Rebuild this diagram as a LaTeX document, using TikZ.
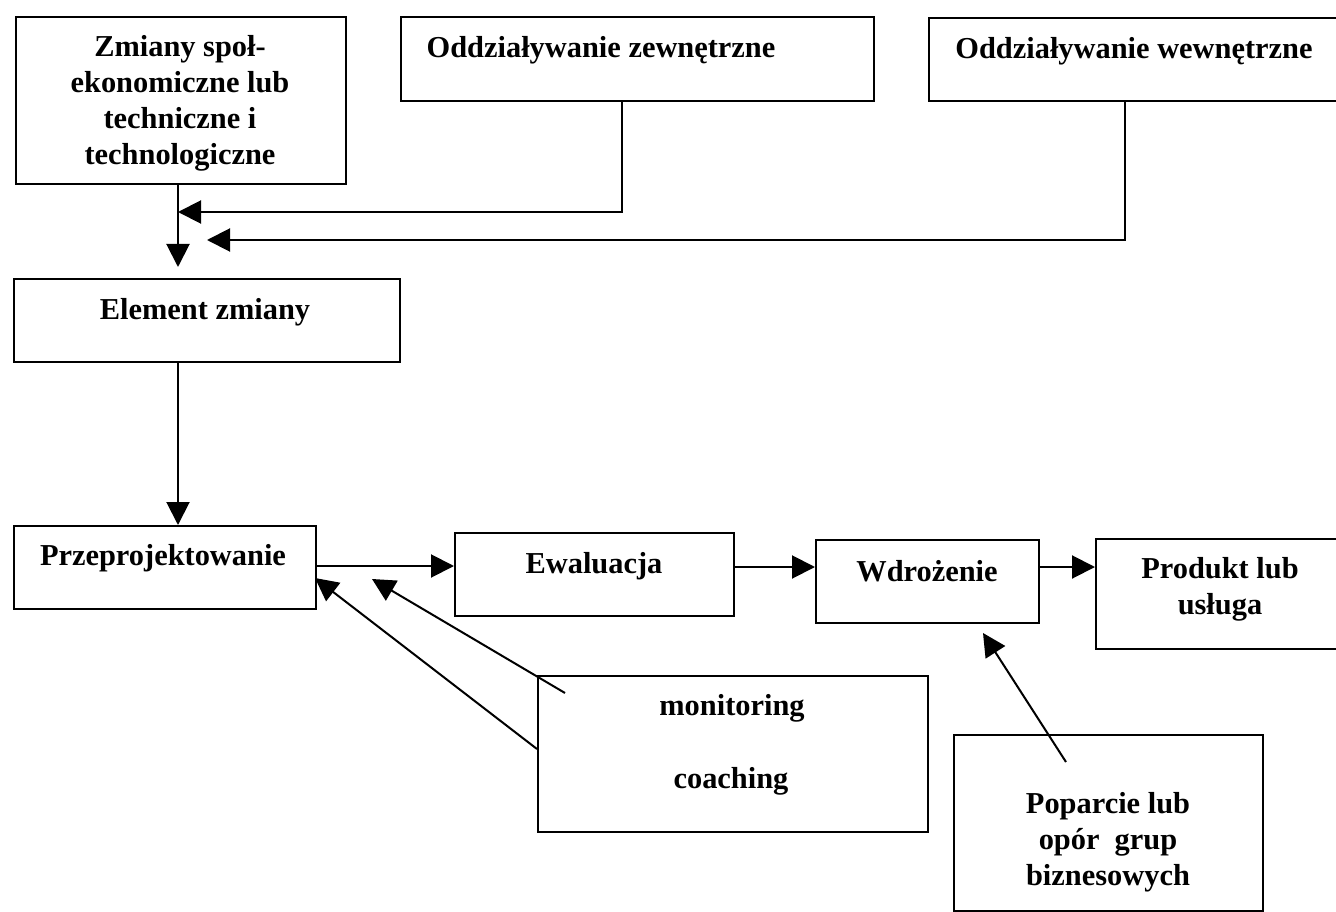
\documentclass[tikz,border=0pt]{standalone}
\usepackage{fontspec}
\setmainfont{Liberation Serif}
\usetikzlibrary{arrows.meta}
\begin{document}
\begin{tikzpicture}[x=1pt,y=-1pt,
  box/.style={draw, line width=2pt, rectangle, inner sep=0pt, anchor=north west},
  lbl/.style={font=\fontsize{30.4}{36}\selectfont\bfseries, align=center, anchor=base, inner sep=0pt},
  conn/.style={line width=2pt},
  arr/.style={conn, -{Triangle[length=23pt,width=23pt]}}]
\useasboundingbox (0,0) rectangle (1336,912);
% boxes
\node[box, minimum width=330pt, minimum height=167pt] (zmiany) at (15,16) {};
\node[box, minimum width=473pt, minimum height=84pt] (zew) at (400,16) {};
\node[box, minimum width=420pt, minimum height=83pt] (wew) at (928,17) {};
\node[box, minimum width=386pt, minimum height=83pt] (elem) at (13,278) {};
\node[box, minimum width=302pt, minimum height=83pt] (przep) at (13,525) {};
\node[box, minimum width=279pt, minimum height=83pt] (ewal) at (454,532) {};
\node[box, minimum width=223pt, minimum height=83pt] (wdroz) at (815,539) {};
\node[box, minimum width=260pt, minimum height=110pt] (prod) at (1095,538) {};
\node[box, minimum width=390pt, minimum height=156pt] (mon) at (537,675) {};
\node[box, minimum width=309pt, minimum height=176pt] (pop) at (953,734) {};
% labels (base anchor = baseline of the last line)
\node[lbl] (tzmiany) at (180,165) {Zmiany społ-\\ekonomiczne lub\\techniczne i\\technologiczne};
\node[lbl] (tzew) at (601,58) {Oddziaływanie zewnętrzne};
\node[lbl] (twew) at (1134,59) {Oddziaływanie wewnętrzne};
\node[lbl] (telem) at (205,319) {Element zmiany};
\node[lbl] (tprzep) at (163,565) {Przeprojektowanie};
\node[lbl] (tewal) at (594,573) {Ewaluacja};
\node[lbl] (twdroz) at (927,581) {Wdrożenie};
\node[lbl] (tprod) at (1220,614) {Produkt lub\\usługa};
\node[lbl] (tmon) at (732,715) {monitoring};
\node[lbl] (tcoach) at (731,788) {coaching};
\node[lbl] (tpop) at (1108,885) {Poparcie lub\\opór~ grup\\biznesowych};
% coordinates
\coordinate (j1) at (178,212);
\coordinate (t1) at (178,267);
\coordinate (b1) at (622,212);
\coordinate (c1) at (1125,240);
\coordinate (j2) at (207,240);
\coordinate (h1) at (0,566);
\coordinate (h2) at (0,567);
\coordinate (m1) at (537,749);
\coordinate (m2) at (565,693);
\coordinate (p1) at (315,578);
\coordinate (p2) at (372,579);
\coordinate (q1) at (1066,762);
\coordinate (q2) at (983,633);
% connectors
\draw[arr] (zmiany.south -| j1) -- (t1);
\draw[arr] (zew.south -| b1) -- (b1) -- (j1);
\draw[arr] (wew.south -| c1) -- (c1) -- (j2);
\draw[arr] (elem.south -| j1) -- (przep.north -| j1);
\draw[arr] (przep.east |- h1) -- (ewal.west |- h1);
\draw[arr] (ewal.east |- h2) -- (wdroz.west |- h2);
\draw[arr] (wdroz.east |- h2) -- (prod.west |- h2);
\draw[arr] (m1) -- (p1);
\draw[arr] (m2) -- (p2);
\draw[arr] (q1) -- (q2);
\end{tikzpicture}
\end{document}
